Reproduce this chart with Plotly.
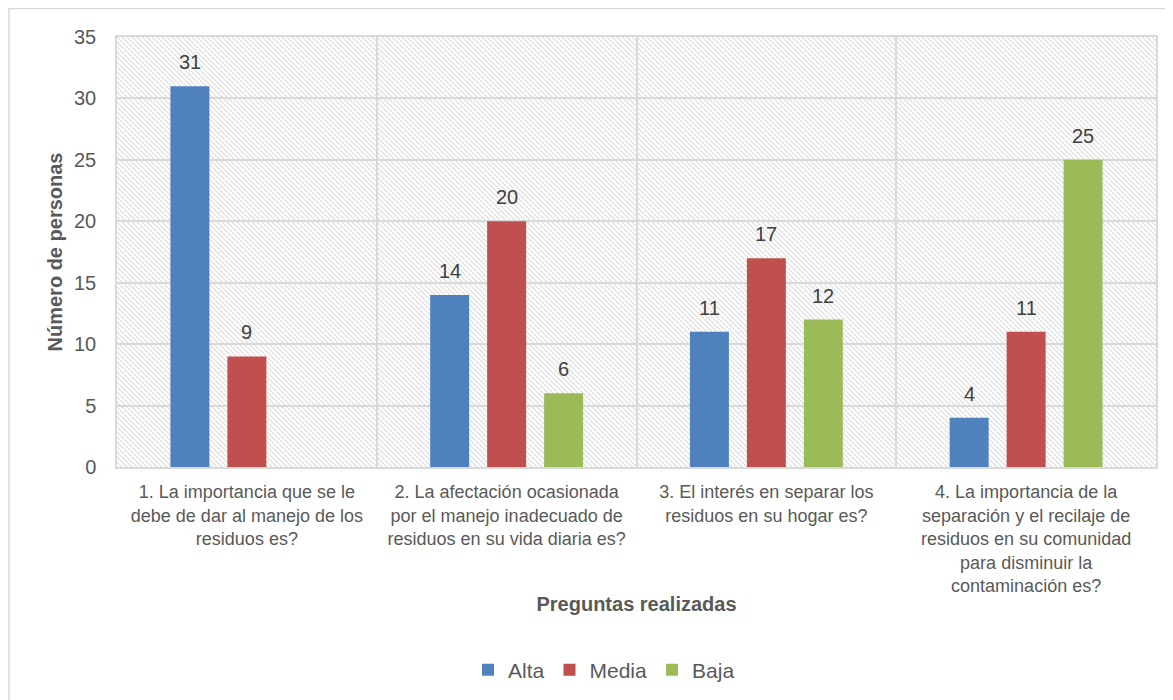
import base64
import plotly.graph_objects as go

categories = [
    "1. La importancia que se le<br>debe de dar al manejo de los<br>residuos es?",
    "2. La afectación ocasionada<br>por el manejo inadecuado de<br>residuos en su vida diaria es?",
    "3. El interés en separar los<br>residuos en su hogar es?",
    "4. La importancia de la<br>separación y el recilaje de<br>residuos en su comunidad<br>para disminuir la<br>contaminación es?",
]
alta = [31, 14, 11, 4]
media = [9, 20, 17, 11]
baja = [None, 6, 12, 25]
series_names = ["Alta", "Media", "Baja"]
series_colors = ["#4F81BD", "#C0504D", "#9BBB59"]
y_ticks = [0, 5, 10, 15, 20, 25, 30, 35]

# page offset of the figure (browser body margin)
OFF = 8
W, H = 1173 - OFF, 700 - OFF
PLOT_L, PLOT_R, PLOT_T, PLOT_B = 117, 1156, 37, 467
ML, MT = PLOT_L - OFF, PLOT_T - OFF
PW, PH = PLOT_R - PLOT_L, PLOT_B - PLOT_T
MR, MB = W - ML - PW, H - MT - PH
BARGAP, BARGROUPGAP = 0.342, 0.316

def px_x(px):
    return (px - PLOT_L) / PW

def px_y(py):
    return (PLOT_B - py) / PH

svg = (
    f'<svg xmlns="http://www.w3.org/2000/svg" width="{PW}" height="{PH}" viewBox="0 0 {PW} {PH}">'
    '<defs><pattern id="h" width="5" height="5" patternUnits="userSpaceOnUse">'
    '<path d="M-1,-1 L6,6 M-1,4 L1,6 M4,-1 L6,1" stroke="#dcdcdc" stroke-width="1.2"/>'
    '</pattern></defs>'
    '<rect width="100%" height="100%" fill="white"/>'
    '<rect width="100%" height="100%" fill="url(#h)"/></svg>'
)
svg_uri = "data:image/svg+xml;base64," + base64.b64encode(svg.encode()).decode()

FONT = "Arial, Liberation Sans, sans-serif"
fig = go.Figure()
annotations = []
slot = PW / len(categories) * (1 - BARGAP) / len(series_names)
for i, (name, vals, col) in enumerate(zip(series_names, [alta, media, baja], series_colors)):
    fig.add_trace(go.Bar(
        name=name, x=categories, y=vals,
        marker=dict(color=col, line=dict(width=0)),
    ))
    for cat, v in zip(categories, vals):
        if v is None:
            continue
        annotations.append(dict(
            x=cat, y=v, xref="x", yref="y", text=str(v), showarrow=False,
            xshift=(i - 1) * slot, yshift=24, yanchor="middle",
            font=dict(family=FONT, size=20, color="#404040"),
        ))

fig.update_layout(
    width=W, height=H,
    margin=dict(l=ML, r=MR, t=MT, b=MB, autoexpand=False),
    paper_bgcolor="white", plot_bgcolor="rgba(0,0,0,0)",
    barmode="group", bargap=BARGAP, bargroupgap=BARGROUPGAP,
    font=dict(family=FONT, color="#595959"),
    showlegend=True,
    legend=dict(orientation="h", x=px_x(604), xanchor="center", y=px_y(670), yanchor="middle",
                font=dict(size=21, color="#595959"), itemwidth=30, traceorder="normal"),
    annotations=annotations,
    images=[dict(source=svg_uri, xref="paper", yref="paper", x=0, y=1, sizex=1, sizey=1,
                 sizing="stretch", xanchor="left", yanchor="top", layer="below")],
    shapes=[dict(type="rect", xref="paper", yref="paper",
                 x0=px_x(9), x1=px_x(1200),
                 y0=px_y(720), y1=px_y(8.5),
                 line=dict(color="#d9d9d9", width=1.5), fillcolor="rgba(0,0,0,0)", layer="below")],
)
fig.update_xaxes(
    tickson="boundaries", showgrid=True, gridcolor="#d9d9d9", gridwidth=1.5,
    showline=True, linecolor="#d9d9d9", linewidth=1.5, mirror=True,
    ticks="", tickfont=dict(size=18, color="#595959"), ticklabelstandoff=8,
    title=dict(text="<b>Preguntas realizadas</b>", font=dict(size=20, color="#595959"), standoff=2),
    automargin=False,
)
fig.update_yaxes(
    range=[0, 35], tickvals=y_ticks, showgrid=True, gridcolor="#d9d9d9", gridwidth=1.5,
    showline=True, linecolor="#d9d9d9", linewidth=1.5, mirror=True, zeroline=False,
    ticks="", tickfont=dict(size=20, color="#595959"), ticklabelstandoff=15,
    title=dict(text="<b>Número de personas</b>", font=dict(size=20, color="#595959"), standoff=6),
    automargin=False,
)
fig.write_html("out.html")
